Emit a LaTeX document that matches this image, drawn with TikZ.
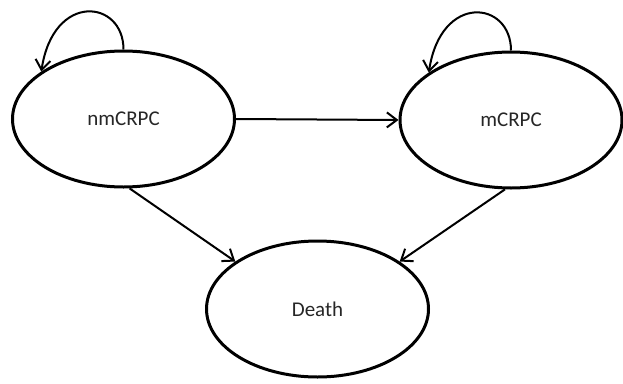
\documentclass[tikz,border=0pt]{standalone}
\usepackage{fontspec}
\setmainfont{Carlito}
\usetikzlibrary{shapes.geometric,arrows.meta}
\tikzset{
  state/.style={ellipse, draw, line width=3pt, minimum width=222pt, minimum height=136pt, font=\fontsize{21}{25}\selectfont, text=black!85},
  trans/.style={line width=2pt, -{Straight Barb[length=10pt,width=15pt,line width=2pt]}}
}
\begin{document}
\begin{tikzpicture}[x=1pt, y=-1pt]
\useasboundingbox (0,0) rectangle (623,383);
\node [state] (nm) at (123.5,119) {nmCRPC};
\node [state] (m) at (511,120) {mCRPC};
\node [state] (death) at (317.5,309) {Death};
\draw [trans] (nm.east) -- (m.west);
\draw [trans] (nm.275) -- (death.150);
\draw [trans] (m.265) -- (death.30);
% self loops
\draw [trans] (nm.north) .. controls +(0,-50) and +(12,-80) .. (nm.150);
\draw [trans] (m.north) .. controls +(0,-50) and +(12,-80) .. (m.150);
\end{tikzpicture}
\end{document}
